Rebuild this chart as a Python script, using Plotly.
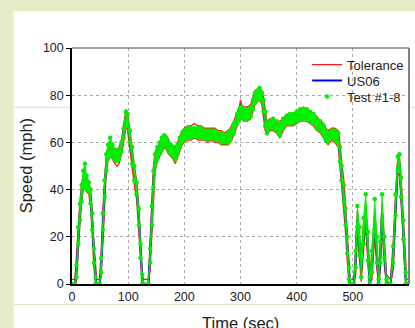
import plotly.graph_objects as go

# ---- data ----
time_s = [0, 5, 8, 11, 14, 17, 20, 23, 26, 30,
          33, 36, 39, 42, 44, 49, 52, 55, 58, 61,
          64, 68, 72, 76, 80, 84, 88, 92, 96, 99,
          103, 107, 111, 115, 119, 122, 125, 127, 136, 139,
          142, 145, 148, 152, 156, 160, 164, 168, 172, 176,
          180, 184, 188, 192, 196, 200, 206, 212, 218, 224,
          230, 236, 242, 248, 254, 260, 266, 272, 278, 282,
          288, 294, 298, 300, 302, 306, 312, 318, 322, 326,
          330, 334, 338, 341, 344, 347, 352, 358, 364, 370,
          376, 382, 388, 394, 400, 406, 412, 418, 424, 430,
          436, 442, 448, 452, 456, 462, 468, 474, 477, 480,
          484, 487, 490, 493, 495, 502, 505, 508, 512, 515,
          519, 523, 527, 530, 534, 539, 543, 546, 549, 552,
          556, 560, 567, 572, 576, 580, 583, 586, 590, 594,
          596, 600]

us06 = [0, 0, 6, 20, 30, 38, 43, 45, 42, 41,
        37, 26, 12, 2, 0, 0, 8, 26, 40, 51,
        55, 57, 56, 55, 54, 55, 58, 64, 71, 69,
        62, 54, 46, 40, 28, 14, 2, 0, 0, 12,
        28, 44, 52, 55, 57, 59, 61, 60, 58, 57,
        56, 55, 57, 60, 62, 63, 64, 64, 65, 64,
        64, 64, 63, 64, 63, 63, 62, 62, 62, 63,
        66, 70, 72, 76, 73, 72, 72, 73, 76, 79,
        80, 81, 80, 76, 70, 66, 68, 68, 67, 66,
        68, 70, 70, 70, 71, 72, 72, 72, 71, 70,
        68, 67, 65, 63, 62, 64, 63, 62, 55, 47,
        38, 28, 16, 4, 0, 0, 10, 27, 16, 6,
        20, 30, 14, 0, 8, 26, 12, 0, 12, 30,
        14, 0, 0, 12, 32, 50, 51, 40, 22, 2,
        0, 0]

tol_hi = [2, 2, 12, 26, 35, 42, 46, 47, 45, 43,
          40, 31, 17, 6, 2, 2, 14, 32, 45, 55,
          58, 59, 58, 57, 57, 58, 61, 68, 74, 72,
          66, 58, 50, 44, 33, 19, 5, 2, 2, 18,
          35, 50, 56, 58, 60, 62, 63, 63, 61, 59,
          58, 58, 60, 63, 65, 66, 67, 67, 68, 67,
          67, 66, 66, 66, 66, 65, 65, 64, 65, 66,
          69, 73, 75, 78, 76, 75, 75, 76, 79, 82,
          82, 83, 82, 79, 74, 69, 70, 70, 69, 69,
          70, 72, 72, 72, 73, 74, 75, 74, 73, 72,
          71, 69, 68, 66, 65, 66, 66, 65, 60, 52,
          44, 34, 22, 9, 2, 2, 16, 31, 21, 11,
          26, 34, 19, 4, 14, 31, 17, 4, 18, 34,
          19, 4, 2, 18, 38, 54, 54, 45, 28, 8,
          2, 2]

tol_lo = [0, 0, 1, 14, 25, 34, 40, 42, 39, 38,
          33, 21, 7, 0, 0, 0, 3, 20, 35, 47,
          52, 54, 53, 51, 50, 51, 55, 60, 67, 65,
          57, 49, 42, 36, 23, 9, 0, 0, 0, 6,
          22, 38, 48, 52, 54, 56, 58, 57, 55, 54,
          53, 51, 54, 57, 59, 60, 61, 61, 62, 61,
          61, 61, 60, 61, 60, 60, 59, 59, 59, 60,
          63, 67, 69, 70, 70, 69, 69, 70, 73, 76,
          77, 78, 76, 71, 65, 63, 65, 65, 64, 62,
          65, 67, 67, 67, 68, 69, 69, 69, 68, 67,
          65, 64, 62, 60, 59, 61, 60, 58, 50, 42,
          32, 22, 10, 0, 0, 0, 4, 22, 10, 1,
          14, 25, 8, 0, 2, 20, 6, 0, 6, 25,
          8, 0, 0, 6, 26, 46, 47, 35, 16, 0,
          0, 0]

test_a = [0, 0, 8, 24, 34, 42, 48, 51, 46, 43,
          40, 30, 15, 3, 0, 0, 11, 30, 44, 55,
          59, 62, 59, 57, 56, 57, 60, 66, 73, 72,
          65, 58, 50, 43, 32, 17, 4, 0, 0, 15,
          33, 48, 55, 58, 60, 62, 63, 62, 60, 59,
          58, 57, 59, 62, 64, 65, 66, 66, 66, 66,
          66, 65, 65, 65, 65, 64, 64, 63, 64, 65,
          68, 72, 74, 75, 75, 74, 74, 75, 78, 81,
          82, 83, 81, 78, 73, 68, 69, 70, 69, 68,
          70, 71, 72, 72, 73, 74, 74, 74, 73, 72,
          70, 69, 67, 65, 64, 65, 65, 64, 58, 50,
          42, 32, 20, 7, 0, 0, 14, 33, 24, 12,
          28, 38, 22, 3, 14, 36, 20, 2, 18, 38,
          20, 2, 0, 16, 38, 54, 55, 45, 27, 5,
          0, 0]

test_b = [0, 0, 3, 17, 27, 35, 41, 43, 40, 39,
          34, 23, 9, 0, 0, 0, 5, 23, 37, 48,
          53, 55, 54, 53, 52, 53, 56, 62, 69, 67,
          60, 51, 44, 38, 25, 11, 0, 0, 0, 9,
          25, 41, 50, 53, 55, 57, 59, 58, 56, 55,
          54, 53, 55, 58, 60, 61, 62, 62, 63, 62,
          62, 62, 61, 62, 61, 61, 60, 60, 60, 61,
          64, 68, 70, 73, 71, 70, 70, 71, 74, 77,
          78, 79, 78, 73, 67, 64, 66, 66, 65, 63,
          66, 68, 68, 68, 69, 70, 70, 70, 69, 68,
          66, 65, 63, 61, 60, 62, 61, 60, 52, 44,
          35, 25, 13, 2, 0, 0, 7, 24, 12, 3,
          17, 27, 10, 0, 5, 23, 9, 0, 9, 27,
          11, 0, 0, 9, 29, 48, 48, 37, 19, 0,
          0, 0]

x_ticks = [0, 100, 200, 300, 400, 500, 600]
y_ticks = [0, 20, 40, 60, 80, 100]

RED = "#ff1a1a"
BLUE = "#0000ff"
GREEN = "#00ee00"
FONT = "Liberation Sans, Arial, sans-serif"


def px_x(p):
    return (p - 72.3) / 336.4


def px_y(p):
    return (283.5 - p) / 235.8


fig = go.Figure()
fig.add_trace(go.Scatter(x=time_s, y=tol_hi, mode="lines", name="Tolerance",
                         legend="legend", line=dict(color=RED, width=1.3)))
fig.add_trace(go.Scatter(x=time_s, y=tol_lo, mode="lines", showlegend=False,
                         line=dict(color=RED, width=1.3)))
fig.add_trace(go.Scatter(x=time_s, y=us06, mode="lines", name="US06",
                         legend="legend2", line=dict(color=BLUE, width=2)))
fig.add_trace(go.Scatter(x=time_s, y=test_a, mode="lines", showlegend=False,
                         line=dict(color=GREEN, width=0.8)))
fig.add_trace(go.Scatter(x=time_s, y=test_b, mode="lines", showlegend=False,
                         fill="tonexty", fillcolor=GREEN,
                         line=dict(color=GREEN, width=0.8)))
fig.add_trace(go.Scatter(x=time_s, y=test_b, mode="markers", showlegend=False,
                         marker=dict(color=GREEN, size=4.5)))
fig.add_trace(go.Scatter(x=time_s, y=test_a, mode="markers", name="Test #1-8",
                         legend="legend3", marker=dict(color=GREEN, size=4.5)))

beige = "#e8ebc8"
faint = "#e2e5bf"
shapes = [
    dict(type="rect", xref="paper", yref="paper", x0=px_x(-10), x1=px_x(430),
         y0=px_y(340), y1=px_y(-10), fillcolor="#ffffff", line=dict(width=0), layer="below"),
    dict(type="rect", xref="paper", yref="paper", x0=px_x(-5), x1=px_x(14),
         y0=px_y(335), y1=px_y(-5), fillcolor=beige, line=dict(width=0), layer="below"),
    dict(type="rect", xref="paper", yref="paper", x0=px_x(-5), x1=px_x(420),
         y0=px_y(11), y1=px_y(-5), fillcolor=beige, line=dict(width=0), layer="below"),
    dict(type="line", xref="paper", yref="paper", x0=px_x(14), x1=px_x(72),
         y0=px_y(107), y1=px_y(107), line=dict(color=faint, width=1), layer="below"),
    dict(type="line", xref="paper", yref="paper", x0=px_x(410), x1=px_x(420),
         y0=px_y(107), y1=px_y(107), line=dict(color=faint, width=1), layer="below"),
    dict(type="line", xref="paper", yref="paper", x0=px_x(14), x1=px_x(420),
         y0=px_y(304), y1=px_y(304), line=dict(color=faint, width=1), layer="below"),
    dict(type="line", xref="paper", yref="paper", x0=0, x1=1, y0=1, y1=1,
         line=dict(color="#808080", width=1.5)),
    dict(type="line", xref="paper", yref="paper", x0=1, x1=1, y0=0, y1=1,
         line=dict(color="#808080", width=2)),
]

leg_common = dict(xanchor="left", yanchor="middle", bgcolor="rgba(255,255,255,0)",
                  borderwidth=0, font=dict(size=13, family=FONT, color="#222222"),
                  itemwidth=30)

fig.update_layout(
    width=415, height=328,
    margin=dict(l=72, r=6, t=48, b=44, pad=0),
    paper_bgcolor="#ffffff", plot_bgcolor="#ffffff",
    font=dict(family=FONT, size=12.5, color="#222222"),
    showlegend=True,
    legend=dict(x=px_x(307), y=px_y(64.3), **leg_common),
    legend2=dict(x=px_x(307), y=px_y(80.3), **leg_common),
    legend3=dict(x=px_x(307), y=px_y(96.3), **leg_common),
    shapes=shapes,
    annotations=[
        dict(text="Speed (mph)", xref="paper", yref="paper", x=px_x(26.7), y=0.5,
             textangle=-90, showarrow=False, xanchor="center", yanchor="middle",
             font=dict(size=16.5, family=FONT, color="#222222")),
        dict(text="Time (sec)", xref="paper", yref="paper", x=0.5, y=px_y(322),
             showarrow=False, xanchor="center", yanchor="middle",
             font=dict(size=16.5, family=FONT, color="#222222")),
    ],
)
fig.update_xaxes(range=[0, 600], tickvals=x_ticks, ticktext=[str(v) for v in x_ticks],
                 showline=True, linecolor="black", linewidth=1.5, mirror=False,
                 showgrid=True, gridcolor="#aaaaaa", griddash="dot", gridwidth=1,
                 ticks="", zeroline=False, fixedrange=True)
fig.update_yaxes(range=[0, 100], tickvals=y_ticks, ticktext=[str(v) for v in y_ticks],
                 showline=True, linecolor="black", linewidth=1.5, mirror=False,
                 showgrid=True, gridcolor="#aaaaaa", griddash="dot", gridwidth=1,
                 ticks="outside", ticklen=4, tickcolor="black", zeroline=False,
                 fixedrange=True)

fig.write_html("out.html", config={"displayModeBar": False},
               post_script="document.body.style.margin='0';document.body.style.overflow='hidden';document.body.style.background='#ffffff';")
